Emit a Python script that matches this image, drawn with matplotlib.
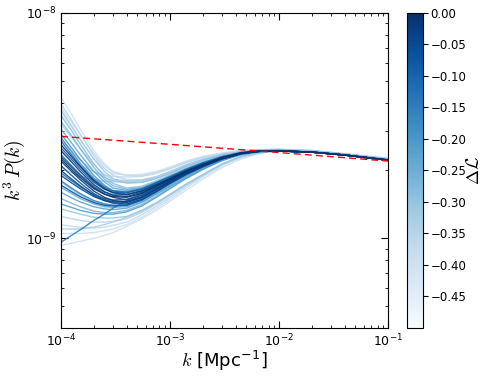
import numpy as np
import matplotlib
matplotlib.use("Agg")
import matplotlib.pyplot as plt
from matplotlib import cm, colors
from matplotlib.ticker import NullFormatter

plt.rcParams['mathtext.fontset'] = 'cm'

K = [1e-4, 1.25e-4, 1.5e-4, 2e-4, 2.5e-4, 3e-4, 4e-4, 5.5e-4, 7.5e-4,
     1e-3, 1.4e-3, 2e-3, 3e-3, 4.5e-3, 6.5e-3, 1e-2, 2e-2, 4e-2, 1e-1]

# Delta L of each sample, and its k^3 P(k) in units of 1e-9 at K
DELTA_L = [
    -0.40, -0.36, -0.32, -0.29, -0.27, -0.38, -0.34, -0.24, -0.41, -0.20,
    -0.01, -0.03, -0.05, -0.02, -0.08, -0.04, -0.10, -0.12, -0.06, -0.14,
    -0.00, -0.17, -0.07, -0.19, -0.13,
    -0.23, -0.27, -0.21, -0.31, -0.35, -0.37, -0.40, -0.39, -0.15, -0.25,
    -0.29, -0.33,
    -0.37, -0.33, -0.30,
]
PK = [
    [4.20, 3.55, 3.05, 2.45, 2.14, 1.98, 1.90, 1.89, 1.95, 2.04, 2.17, 2.29, 2.38, 2.44, 2.47, 2.48, 2.45, 2.37, 2.26],
    [3.95, 3.35, 2.90, 2.33, 2.04, 1.90, 1.82, 1.82, 1.88, 1.98, 2.12, 2.25, 2.35, 2.42, 2.46, 2.47, 2.44, 2.36, 2.25],
    [3.70, 3.15, 2.75, 2.25, 1.98, 1.84, 1.76, 1.77, 1.85, 1.95, 2.09, 2.23, 2.34, 2.42, 2.46, 2.47, 2.44, 2.36, 2.25],
    [3.50, 3.00, 2.62, 2.14, 1.88, 1.75, 1.67, 1.70, 1.80, 1.91, 2.05, 2.19, 2.32, 2.41, 2.45, 2.46, 2.42, 2.35, 2.24],
    [3.30, 2.85, 2.50, 2.06, 1.83, 1.71, 1.65, 1.68, 1.78, 1.89, 2.03, 2.17, 2.31, 2.40, 2.44, 2.45, 2.41, 2.34, 2.23],
    [3.80, 3.28, 2.88, 2.38, 2.10, 1.96, 1.90, 1.90, 1.96, 2.05, 2.18, 2.30, 2.38, 2.44, 2.47, 2.48, 2.45, 2.37, 2.26],
    [3.20, 2.80, 2.50, 2.12, 1.92, 1.82, 1.80, 1.80, 1.87, 1.97, 2.11, 2.24, 2.35, 2.42, 2.46, 2.47, 2.44, 2.36, 2.25],
    [3.05, 2.65, 2.35, 1.98, 1.78, 1.67, 1.63, 1.67, 1.77, 1.88, 2.02, 2.16, 2.30, 2.40, 2.44, 2.45, 2.41, 2.34, 2.23],
    [3.60, 3.10, 2.72, 2.26, 2.03, 1.93, 1.91, 1.92, 1.98, 2.07, 2.20, 2.31, 2.39, 2.45, 2.47, 2.48, 2.45, 2.37, 2.26],
    [2.90, 2.52, 2.24, 1.90, 1.72, 1.62, 1.57, 1.62, 1.73, 1.84, 1.99, 2.13, 2.28, 2.39, 2.43, 2.44, 2.41, 2.34, 2.22],
    # dark, best fitting samples
    [2.60, 2.30, 2.08, 1.80, 1.66, 1.59, 1.56, 1.62, 1.73, 1.84, 1.99, 2.13, 2.28, 2.39, 2.43, 2.44, 2.41, 2.34, 2.22],
    [2.45, 2.18, 1.98, 1.73, 1.61, 1.55, 1.53, 1.60, 1.71, 1.83, 1.98, 2.12, 2.28, 2.39, 2.43, 2.44, 2.41, 2.34, 2.22],
    [2.30, 2.07, 1.90, 1.68, 1.57, 1.52, 1.48, 1.55, 1.67, 1.79, 1.95, 2.10, 2.26, 2.38, 2.43, 2.44, 2.41, 2.34, 2.22],
    [2.20, 1.98, 1.82, 1.62, 1.52, 1.47, 1.45, 1.52, 1.65, 1.78, 1.94, 2.09, 2.26, 2.38, 2.43, 2.44, 2.41, 2.34, 2.22],
    [2.10, 1.90, 1.76, 1.58, 1.49, 1.45, 1.44, 1.51, 1.64, 1.77, 1.93, 2.09, 2.25, 2.38, 2.43, 2.44, 2.41, 2.34, 2.22],
    [2.00, 1.83, 1.71, 1.55, 1.47, 1.43, 1.42, 1.49, 1.62, 1.76, 1.92, 2.08, 2.25, 2.37, 2.43, 2.44, 2.41, 2.34, 2.22],
    [2.52, 2.24, 2.03, 1.77, 1.65, 1.60, 1.59, 1.65, 1.76, 1.87, 2.01, 2.15, 2.29, 2.39, 2.43, 2.44, 2.41, 2.34, 2.22],
    [2.70, 2.35, 2.10, 1.82, 1.68, 1.62, 1.60, 1.65, 1.76, 1.87, 2.02, 2.16, 2.30, 2.40, 2.44, 2.45, 2.41, 2.34, 2.23],
    [1.90, 1.76, 1.66, 1.53, 1.47, 1.45, 1.46, 1.53, 1.66, 1.79, 1.95, 2.10, 2.26, 2.38, 2.43, 2.44, 2.41, 2.34, 2.22],
    [2.35, 2.10, 1.92, 1.70, 1.60, 1.56, 1.56, 1.63, 1.74, 1.86, 2.00, 2.14, 2.29, 2.39, 2.43, 2.44, 2.41, 2.34, 2.22],
    [2.25, 2.02, 1.86, 1.66, 1.57, 1.53, 1.52, 1.58, 1.70, 1.82, 1.97, 2.12, 2.27, 2.39, 2.43, 2.44, 2.41, 2.34, 2.22],
    [1.80, 1.67, 1.58, 1.47, 1.42, 1.40, 1.40, 1.47, 1.60, 1.74, 1.91, 2.07, 2.24, 2.37, 2.43, 2.44, 2.41, 2.34, 2.22],
    [1.72, 1.61, 1.53, 1.44, 1.40, 1.39, 1.40, 1.48, 1.61, 1.75, 1.92, 2.08, 2.25, 2.37, 2.43, 2.44, 2.41, 2.34, 2.22],
    [2.80, 2.42, 2.15, 1.85, 1.70, 1.63, 1.61, 1.66, 1.77, 1.88, 2.02, 2.16, 2.30, 2.40, 2.44, 2.45, 2.41, 2.34, 2.23],
    [1.95, 1.80, 1.69, 1.56, 1.50, 1.48, 1.49, 1.56, 1.68, 1.81, 1.96, 2.11, 2.27, 2.38, 2.43, 2.44, 2.41, 2.34, 2.22],
    # low starting samples
    [1.60, 1.51, 1.45, 1.38, 1.35, 1.34, 1.36, 1.44, 1.57, 1.70, 1.87, 2.04, 2.22, 2.36, 2.42, 2.44, 2.41, 2.34, 2.22],
    [1.50, 1.43, 1.38, 1.32, 1.30, 1.30, 1.33, 1.41, 1.54, 1.68, 1.85, 2.03, 2.22, 2.36, 2.42, 2.44, 2.41, 2.34, 2.22],
    [1.42, 1.37, 1.33, 1.29, 1.28, 1.28, 1.31, 1.39, 1.52, 1.66, 1.84, 2.02, 2.21, 2.35, 2.42, 2.44, 2.41, 2.34, 2.22],
    [1.35, 1.31, 1.28, 1.24, 1.23, 1.23, 1.25, 1.33, 1.44, 1.57, 1.74, 1.92, 2.14, 2.31, 2.40, 2.45, 2.42, 2.35, 2.23],
    [1.25, 1.22, 1.20, 1.18, 1.18, 1.19, 1.22, 1.30, 1.42, 1.55, 1.72, 1.91, 2.13, 2.31, 2.40, 2.45, 2.42, 2.35, 2.23],
    [1.15, 1.13, 1.12, 1.11, 1.12, 1.14, 1.18, 1.27, 1.39, 1.52, 1.70, 1.89, 2.12, 2.30, 2.39, 2.46, 2.43, 2.35, 2.24],
    [0.93, 0.95, 0.97, 1.00, 1.03, 1.06, 1.13, 1.22, 1.33, 1.46, 1.63, 1.83, 2.06, 2.25, 2.37, 2.46, 2.43, 2.36, 2.25],
    [1.05, 1.05, 1.05, 1.06, 1.08, 1.10, 1.15, 1.24, 1.36, 1.49, 1.67, 1.87, 2.10, 2.28, 2.38, 2.46, 2.43, 2.36, 2.25],
    [0.96, 1.03, 1.09, 1.20, 1.28, 1.36, 1.47, 1.58, 1.70, 1.81, 1.95, 2.10, 2.26, 2.38, 2.43, 2.44, 2.41, 2.34, 2.22],
    [1.68, 1.58, 1.50, 1.42, 1.38, 1.37, 1.38, 1.45, 1.58, 1.71, 1.88, 2.05, 2.23, 2.36, 2.42, 2.44, 2.41, 2.34, 2.22],
    [1.78, 1.65, 1.56, 1.46, 1.42, 1.40, 1.42, 1.49, 1.61, 1.74, 1.90, 2.06, 2.23, 2.36, 2.42, 2.45, 2.42, 2.35, 2.23],
    [1.10, 1.10, 1.10, 1.12, 1.15, 1.18, 1.24, 1.32, 1.43, 1.56, 1.73, 1.91, 2.13, 2.30, 2.39, 2.45, 2.42, 2.35, 2.24],
    # flat, upper edge of the band
    [2.40, 2.22, 2.10, 1.97, 1.91, 1.88, 1.87, 1.88, 1.94, 2.03, 2.16, 2.28, 2.37, 2.44, 2.47, 2.48, 2.45, 2.37, 2.26],
    [2.05, 1.95, 1.88, 1.82, 1.79, 1.78, 1.78, 1.80, 1.87, 1.97, 2.11, 2.24, 2.35, 2.42, 2.46, 2.47, 2.44, 2.36, 2.25],
    [2.75, 2.45, 2.22, 1.98, 1.86, 1.80, 1.76, 1.77, 1.84, 1.94, 2.08, 2.22, 2.34, 2.42, 2.46, 2.47, 2.44, 2.36, 2.25],
]

# best fit (red dashed)
K_FID = [1e-4, 1e-3, 1e-2, 1e-1]
PK_FID = [2.83, 2.61, 2.40, 2.20]

fig = plt.figure(figsize=(4.84, 3.77), dpi=100)
ax = fig.add_axes([0.126, 0.130, 0.676, 0.836])
cax = fig.add_axes([0.841, 0.130, 0.033, 0.836])

norm = colors.Normalize(vmin=-0.5, vmax=0.0)
cmap = plt.get_cmap('Blues')

order = np.argsort(DELTA_L)  # darkest (best) curves on top
for i in order:
    ax.plot(K, np.array(PK[i]) * 1e-9, color=cmap(norm(DELTA_L[i])), lw=1.0, alpha=0.9)

ax.plot(K_FID, np.array(PK_FID) * 1e-9, 'r--', lw=1.0, dashes=(5, 3))

ax.set_xscale('log')
ax.set_yscale('log')
ax.set_xlim(1e-4, 1e-1)
ax.set_ylim(4e-10, 1e-8)
ax.yaxis.set_minor_formatter(NullFormatter())
ax.tick_params(which='both', direction='in', top=True, right=True, labelsize=9)
ax.tick_params(which='major', length=5)
ax.tick_params(which='minor', length=2.5)

ax.set_xlabel(r'$k$ [Mpc$^{\mathdefault{-1}}$]', fontsize=13, labelpad=0)
ax.set_ylabel(r'$k^3\,P(k)$', fontsize=14)
ax.yaxis.set_label_coords(-0.105, 0.5)

sm = cm.ScalarMappable(norm=norm, cmap=cmap)
cb = fig.colorbar(sm, cax=cax, ticks=np.arange(-0.45, 0.001, 0.05))
cb.ax.tick_params(labelsize=8.5, pad=2)
cb.set_label(r'$\Delta\mathcal{L}$', fontsize=13, labelpad=-1)

fig.savefig('out.png', dpi=100)
